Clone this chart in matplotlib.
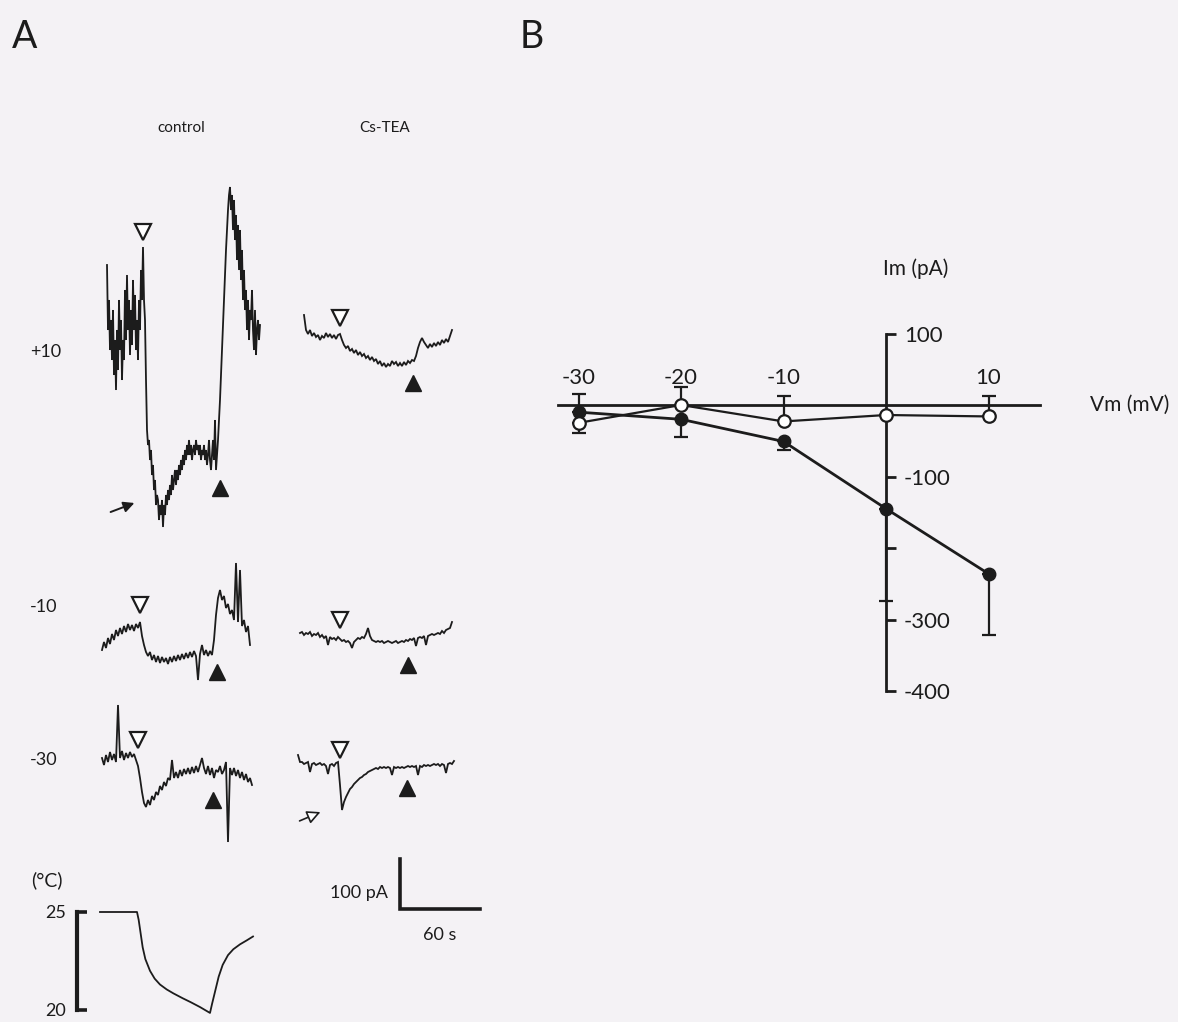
import numpy as np
import matplotlib.pyplot as plt

plt.rcParams['font.family'] = ['Lato', 'DejaVu Sans']

W, H = 1178, 1022
INK = '#1c1c1c'
BG = '#f4f2f5'

# ---- panel A data (current in pA, relative to pre-cooling level) ----
dt_ctrl_p10 = 0.75
ctrl_p10 = [130, 0, 60, -40, 20, -60, 40, -90, -20, -120, 0, -80, 60, -40, 20, -100, -20, -60, 80, -20,
            110, 0, 60, -50, 40, -30, 100, 0, 70, -40, 20, -60, 60, 0, 120, 60, 166, 60, 20, -100,
            -200, -230, -220, -260, -240, -290, -270, -320, -300, -350, -330, -340, -380, -350, -370, -340, -394, -350, -370, -330,
            -350, -320, -340, -310, -330, -290, -320, -300, -280, -310, -280, -300, -270, -290, -260, -280, -250, -270, -240, -260,
            -230, -250, -220, -250, -230, -260, -240, -230, -250, -220, -240, -230, -250, -230, -260, -240, -250, -230, -260, -240,
            -270, -250, -220, -260, -280, -250, -220, -260, -180, -280, -250, -220, -180, -140, -90, -40, 10, 60, 110, 160,
            200, 240, 270, 286, 240, 270, 200, 260, 180, 230, 140, 210, 120, 200, 100, 160, 60, 120, 40, 80,
            0, 60, -20, 40, 20, 80, 0, -40, 40, -50, 0, 20, -20, 10]

dt_other = 1.5
cs_p10 = [34, 4, -4, 4, -8, -2, -10, -6, -16, -8, -12, -2, -10, -4, -12, -6, -14, -6, -4, -16,
          -26, -32, -28, -38, -34, -42, -36, -46, -40, -48, -44, -52, -48, -56, -50, -58, -54, -64, -58, -68,
          -62, -70, -64, -68, -58, -64, -60, -68, -62, -68, -60, -66, -58, -62, -56, -58, -48, -32, -20, -12,
          -20, -26, -32, -24, -30, -22, -28, -20, -26, -16, -22, -14, -20, -8, 4]

ctrl_m10 = [-20, -4, -16, 4, -8, 12, 0, 20, 8, 24, 12, 28, 16, 32, 20, 30, 18, 32, 24, 36,
            8, -10, -24, -32, -24, -40, -30, -44, -32, -46, -34, -44, -36, -48, -34, -44, -32, -42, -30, -40,
            -28, -38, -26, -36, -24, -34, -22, -32, -80, -28, -10, -30, -20, -32, -22, -30, 0, 50, 84, 100,
            80, 88, 64, 72, 52, 60, 40, 154, 36, 140, 28, 40, 16, 28, -10]

cs_m10 = [2, 4, -2, 2, 0, 4, -4, 0, -2, 2, -6, -2, -8, -4, -22, -6, -10, -8, -12, -6,
          -10, -14, -12, -16, -14, -18, -28, -16, -12, -8, -10, -6, -8, 0, 12, -4, -12, -14, -16, -14,
          -16, -14, -18, -16, -14, -16, -18, -16, -14, -18, -16, -14, -16, -12, -14, -10, -12, -8, -24, -8,
          -6, -8, -4, -22, -4, -2, 0, -2, 0, 2, 0, 6, 2, 8, 10, 12, 24]

ctrl_m30 = [4, -10, 10, -4, 16, 0, 12, -4, 110, 4, 18, 0, 14, 4, 16, 6, 12, 0, -12, -36,
            -64, -86, -94, -80, -90, -72, -80, -64, -70, -52, -60, -44, -52, -36, -40, 0, -36, -24, -36, -20,
            -32, -18, -28, -16, -28, -14, -26, -12, -24, -10, 4, -16, -28, -12, -30, -16, -36, -20, -24, -12,
            -28, -20, -4, -164, -16, -30, -16, -32, -20, -36, -24, -40, -28, -44, -36, -50]

cs_m30 = [16, 2, 2, -2, 0, 2, -18, -2, 0, -4, -2, 0, -4, -2, -6, -22, -4, -2, -6, 0,
          2, -44, -94, -78, -68, -60, -52, -48, -42, -38, -34, -30, -28, -24, -22, -18, -16, -14, -12, -10,
          -12, -8, -10, -8, -10, -8, -10, -24, -8, -10, -8, -10, -8, -10, -8, -6, -8, -6, -8, -6,
          -24, -6, -8, -4, -6, -4, -6, -4, -2, -4, -2, -6, -2, -4, -20, -2, 0, -2, 4]

# cooling onset (open) and recovery (filled) marker positions: (time s, current pA)
open_marks = {'c10': (27, 196), 's10': (27, 28), 'cm10': (28.5, 70), 'sm10': (30, 28),
              'cm30': (27, 40), 'sm30': (31.5, 26)}
fill_marks = {'c10': (84.75, -316), 's10': (81.75, -102), 'cm10': (86.25, -64), 'sm10': (81, -62),
              'cm30': (83.25, -80), 'sm30': (81.75, -50)}

temp_t = [0, 27.75, 29, 30.5, 32, 34, 37.5, 41, 45, 50, 55, 62, 68, 75, 82.5, 84, 86.5, 89, 92, 96, 100, 105, 110, 114.75]
temp_c = [25, 25, 24.6, 23.9, 23.2, 22.6, 22.0, 21.6, 21.3, 21.05, 20.85, 20.6, 20.4, 20.15, 19.85, 20.3, 21.0,
          21.7, 22.3, 22.8, 23.1, 23.35, 23.55, 23.75]

row_labels = ['+10', '-10', '-30']

# ---- panel B data ----
vm = [-30, -20, -10, 0, 10]
im_ctrl = [-10, -20, -51, -145, -236]
ctrl_err_lo = [0, 25, 12, 129, 86]
ctrl_err_hi = [25, 0, 0, 0, 0]
im_cs = [-25, 0, -23, -14, -16]
cs_err_lo = [14, 0, 0, 0, 0]
cs_err_hi = [0, 25, 36, 0, 28]

# ---- layout ----
PX_PER_S = 80 / 60
PX_PER_PA = 0.5

fig = plt.figure(figsize=(W / 100, H / 100), dpi=100)
fig.patch.set_facecolor(BG)


def px_axes(left, top, right, bottom):
    ax = fig.add_axes([left / W, 1 - bottom / H, (right - left) / W, (bottom - top) / H])
    ax.patch.set_alpha(0)
    return ax


def trace_axes(x0, y0, t_lo=-30, t_hi=140, i_lo=-450, i_hi=350):
    ax = px_axes(x0 + t_lo * PX_PER_S, y0 - i_hi * PX_PER_PA, x0 + t_hi * PX_PER_S, y0 - i_lo * PX_PER_PA)
    ax.set_xlim(t_lo, t_hi)
    ax.set_ylim(i_lo, i_hi)
    ax.axis('off')
    return ax


def draw_trace(ax, vals, dt, key):
    t = np.arange(len(vals)) * dt
    ax.plot(t, vals, color=INK, lw=1.3, solid_joinstyle='miter')
    ot, oi = open_marks[key]
    ax.plot([ot], [oi], marker='v', ms=11, mfc='white', mec=INK, mew=1.6, ls='none', clip_on=False)
    ft, fi = fill_marks[key]
    ax.plot([ft], [fi], marker='^', ms=11, mfc=INK, mec=INK, ls='none', clip_on=False)


traces = [
    (107, 330, ctrl_p10, dt_ctrl_p10, 'c10'),
    (304, 332, cs_p10, dt_other, 's10'),
    (102, 640, ctrl_m10, dt_other, 'cm10'),
    (300, 634, cs_m10, dt_other, 'sm10'),
    (102, 760, ctrl_m30, dt_other, 'cm30'),
    (298, 763, cs_m30, dt_other, 'sm30'),
]
trace_ax = {}
for x0, y0, vals, dt, key in traces:
    ax = trace_axes(x0, y0)
    draw_trace(ax, vals, dt, key)
    trace_ax[key] = ax

# arrows pointing at the peak responses
trace_ax['c10'].annotate('', xy=(22.5, -344), xytext=(0.75, -366),
                         arrowprops=dict(arrowstyle='-|>', color=INK, lw=1.4, mutation_scale=16))
trace_ax['sm30'].annotate('', xy=(18.75, -96), xytext=(-0.75, -118),
                          arrowprops=dict(arrowstyle='-|>', fc='white', ec=INK, lw=1.2, mutation_scale=20))

# labels
fig.text(12 / W, 1 - 37 / H, 'A', fontsize=27, color=INK, va='center', ha='left')
fig.text(520 / W, 1 - 37 / H, 'B', fontsize=27, color=INK, va='center', ha='left')
fig.text(181 / W, 1 - 128 / H, 'control', fontsize=11, color=INK, ha='center', va='center')
fig.text(385 / W, 1 - 128 / H, 'Cs-TEA', fontsize=11, color=INK, ha='center', va='center')
for lab, yy in zip(row_labels, [352, 607, 760]):
    fig.text(30 / W, 1 - yy / H, lab, fontsize=13, color=INK, ha='left', va='center')

# scale bar
sb = trace_axes(400, 909)
sb.plot([0, 0, 60], [100, 0, 0], color=INK, lw=2.6, solid_joinstyle='miter')
sb.text(-9, 32, '100 pA', fontsize=13, color=INK, ha='right', va='center')
sb.text(30, -52, '60 s', fontsize=13, color=INK, ha='center', va='center')

# temperature trace
PX_PER_C = 19.6
tx0, ty0 = 100, 912
tax = px_axes(tx0 - 40 * PX_PER_S, ty0 - 2 * PX_PER_C, tx0 + 130 * PX_PER_S, ty0 + 6 * PX_PER_C)
tax.set_xlim(-40, 130)
tax.set_ylim(19, 27)
tax.plot(temp_t, temp_c, color=INK, lw=1.3)
for s in ['top', 'right', 'bottom']:
    tax.spines[s].set_visible(False)
tax.spines['left'].set_position(('data', -17.25))
tax.spines['left'].set_bounds(20, 25)
tax.spines['left'].set_linewidth(3)
tax.spines['left'].set_color(INK)
tax.set_xticks([])
tax.set_yticks([20, 25])
tax.set_yticklabels(['20', '25'])
tax.tick_params(axis='y', direction='in', length=7, width=2.6, pad=8, labelsize=13, colors=INK)
tax.text(-40, 26.6, '(°C)', fontsize=14, color=INK, ha='center', va='center', clip_on=False)

# ---- panel B ----
B_X0, B_Y0 = 886, 405
PX_PER_MV = 10.25
PX_PER_PA_B = 0.715
bl, bt, br, bb = 540, 240, 1178, 730
bax = px_axes(bl, bt, br, bb)
bax.set_xlim((bl - B_X0) / PX_PER_MV, (br - B_X0) / PX_PER_MV)
bax.set_ylim((B_Y0 - bb) / PX_PER_PA_B, (B_Y0 - bt) / PX_PER_PA_B)

bax.errorbar(vm, im_ctrl, yerr=[ctrl_err_lo, ctrl_err_hi], fmt='-o', color=INK, mfc=INK, mec=INK,
             ms=9, lw=2, elinewidth=1.6, capsize=5, capthick=1.6, zorder=3, clip_on=False)
bax.errorbar(vm, im_cs, yerr=[cs_err_lo, cs_err_hi], fmt='-o', color=INK, mfc='white', mec=INK, mew=1.6,
             ms=9, lw=1.6, elinewidth=1.6, capsize=5, capthick=1.6, zorder=4, clip_on=False)

bax.spines['left'].set_visible(False)
bax.spines['bottom'].set_visible(False)
bax.spines['top'].set_position(('data', 0))
bax.spines['top'].set_bounds(-32, 15)
bax.spines['right'].set_position(('data', 0))
bax.spines['right'].set_bounds(-400, 100)
for s in ['top', 'right']:
    bax.spines[s].set_linewidth(2)
    bax.spines[s].set_color(INK)
bax.xaxis.tick_top()
bax.set_xticks([-30, -20, -10, 10])
bax.set_xticklabels(['-30', '-20', '-10', '10'])
bax.tick_params(axis='x', length=0, pad=12, labelsize=16, colors=INK)
bax.yaxis.tick_right()
bax.set_yticks([100, -100, -200, -300, -400])
bax.set_yticklabels(['100', '-100', '', '-300', '-400'])
bax.tick_params(axis='y', direction='out', length=7, width=2, pad=6, labelsize=16, colors=INK)
bax.text(19.9, 0, 'Vm (mV)', fontsize=15, color=INK, ha='left', va='center')
bax.text(2.9, 190, 'Im (pA)', fontsize=15, color=INK, ha='center', va='center')

fig.savefig('out.png', dpi=100, facecolor=BG)
